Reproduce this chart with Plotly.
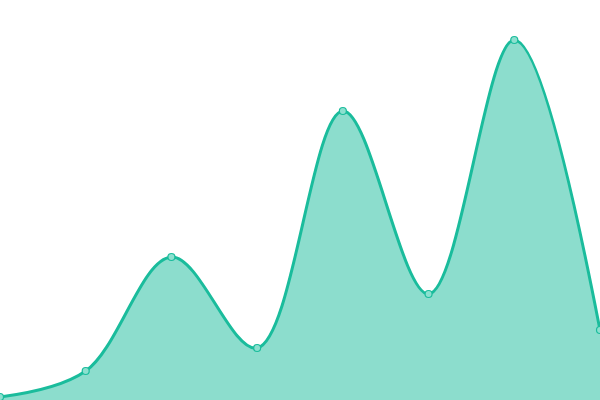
import plotly.graph_objects as go

categories = list(range(8))
values = [3, 29, 143, 52, 289, 106, 360, 70]

fig = go.Figure()
fig.add_trace(go.Scatter(
    x=categories, y=values,
    mode="lines+markers",
    line=dict(shape="spline", smoothing=1, color="#1abc9c", width=3),
    fill="tozeroy", fillcolor="rgba(26,188,156,0.5)",
    marker=dict(size=7, color="#8ce0cf", line=dict(color="#1abc9c", width=1.2)),
    hoverinfo="skip",
))
fig.update_layout(
    width=600, height=400,
    margin=dict(l=0, r=0, t=0, b=0),
    paper_bgcolor="white", plot_bgcolor="white",
    showlegend=False,
    xaxis=dict(range=[0, 7], visible=False, fixedrange=True),
    yaxis=dict(range=[0, 400], visible=False, fixedrange=True),
)
fig.write_html(
    "out.html",
    config={"displayModeBar": False},
    post_script="document.body.style.margin='0';document.body.style.overflow='hidden';",
)
